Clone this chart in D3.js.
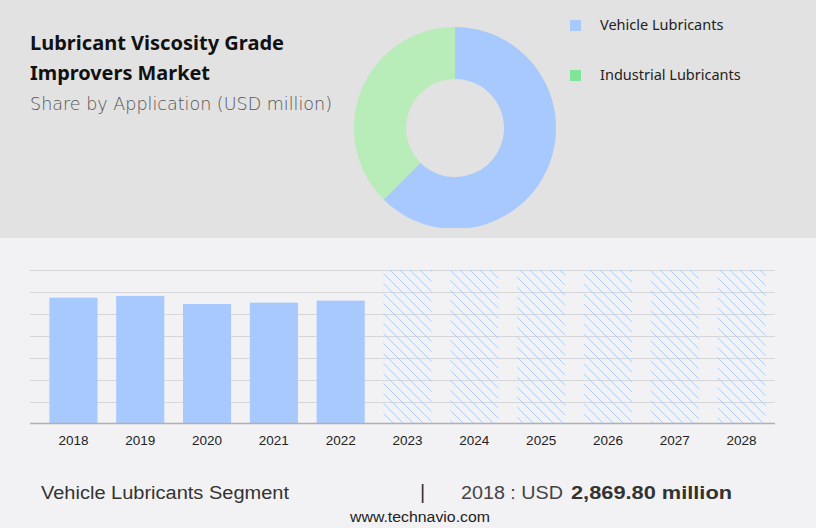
<!DOCTYPE html>
<html>
<head>
<meta charset="utf-8">
<script src="https://cdn.jsdelivr.net/npm/d3@7"></script>
<style>
    body { margin: 0; background: #f2f2f4; }
    svg { display: block; }
</style>
</head>
<body>
<div id="chart"></div>
<script>
var years = ['2018', '2019', '2020', '2021', '2022', '2023', '2024', '2025', '2026', '2027', '2028'];
var vehicleValues = [2869.8, 2908, 2726, 2756, 2801, null, null, null, null, null, null];
var forecastYears = ['2023', '2024', '2025', '2026', '2027', '2028'];
var gridTicks = [0, 500, 1000, 1500, 2000, 2500, 3000, 3500];

var shareLabels = ['Vehicle Lubricants', 'Industrial Lubricants'];
var shareValues = [62.5, 37.5];
var shareColors = ['#a8c9fd', '#b8ecb9'];
var legendColors = ['#a8c9fd', '#7ee599'];

var width = 816;
var height = 528;

var svg = d3.select('#chart').append('svg')
    .attr('width', width)
    .attr('height', height);

var defs = svg.append('defs');
var hatch = defs.append('pattern')
    .attr('id', 'hatch')
    .attr('patternUnits', 'userSpaceOnUse')
    .attr('width', 10)
    .attr('height', 10);
hatch.append('path')
    .attr('d', 'M-1,-1 L11,11 M-6,4 L1,11 M9,-1 L16,6')
    .attr('stroke', '#a8c9fd')
    .attr('stroke-width', 0.9)
    .attr('fill', 'none');

// top panel
svg.append('rect')
    .attr('x', 0).attr('y', 0)
    .attr('width', width).attr('height', 238)
    .attr('fill', '#e2e2e2');

svg.append('text')
    .attr('x', 30).attr('y', 50)
    .attr('font-family', 'Noto Sans, sans-serif')
    .attr('font-weight', 'bold')
    .attr('font-size', 20)
    .attr('fill', '#111')
    .attr('textLength', 254)
    .attr('lengthAdjust', 'spacingAndGlyphs')
    .text('Lubricant Viscosity Grade');
svg.append('text')
    .attr('x', 30).attr('y', 80)
    .attr('font-family', 'Noto Sans, sans-serif')
    .attr('font-weight', 'bold')
    .attr('font-size', 20)
    .attr('fill', '#111')
    .attr('textLength', 180)
    .attr('lengthAdjust', 'spacingAndGlyphs')
    .text('Improvers Market');
svg.append('text')
    .attr('x', 30).attr('y', 110)
    .attr('font-family', 'DejaVu Sans, sans-serif')
    .attr('font-weight', 300)
    .attr('font-size', 17)
    .attr('fill', '#555')
    .attr('textLength', 302)
    .attr('lengthAdjust', 'spacingAndGlyphs')
    .text('Share by Application (USD million)');

// donut
var pie = d3.pie().sort(null).value(function(d) { return d; });
var arc = d3.arc().innerRadius(49).outerRadius(101);
var donut = svg.append('g')
    .attr('transform', 'translate(455,128)');
donut.selectAll('path')
    .data(pie(shareValues))
    .enter().append('path')
    .attr('d', arc)
    .attr('fill', function(d, i) { return shareColors[i]; });

// clip the donut at the panel edge like the original
svg.append('rect')
    .attr('x', 340).attr('y', 228)
    .attr('width', 230).attr('height', 10)
    .attr('fill', '#e2e2e2');

var legend = svg.append('g');
legend.selectAll('rect')
    .data(shareLabels)
    .enter().append('rect')
    .attr('x', 570)
    .attr('y', function(d, i) { return 20 + i * 50; })
    .attr('width', 11).attr('height', 11)
    .attr('fill', function(d, i) { return legendColors[i]; });
legend.selectAll('text')
    .data(shareLabels)
    .enter().append('text')
    .attr('x', 600)
    .attr('y', function(d, i) { return 30 + i * 50; })
    .attr('font-family', 'Noto Sans, sans-serif')
    .attr('font-size', 14.5)
    .attr('fill', '#222')
    .text(function(d) { return d; });

// bar chart
var xScale = d3.scaleBand().domain(years).range([40, 775]).paddingInner(0.28).paddingOuter(0.14);
var yScale = d3.scaleLinear().domain([0, 3500]).range([423.5, 270]);

var grid = svg.append('g');
grid.selectAll('line')
    .data(gridTicks.slice(1))
    .enter().append('line')
    .attr('x1', 30).attr('x2', 775)
    .attr('y1', function(d) { return Math.round(yScale(d)) + 0.5; })
    .attr('y2', function(d) { return Math.round(yScale(d)) + 0.5; })
    .attr('stroke', '#d6d6d8')
    .attr('stroke-width', 1);

svg.append('g').selectAll('rect')
    .data(years.filter(function(d, i) { return vehicleValues[i] !== null; }))
    .enter().append('rect')
    .attr('x', function(d) { return xScale(d); })
    .attr('y', function(d) { return yScale(vehicleValues[years.indexOf(d)]); })
    .attr('width', xScale.bandwidth())
    .attr('height', function(d) { return yScale(0) - yScale(vehicleValues[years.indexOf(d)]); })
    .attr('fill', '#a8c9fd');

svg.append('g').selectAll('rect')
    .data(forecastYears)
    .enter().append('rect')
    .attr('x', function(d) { return xScale(d); })
    .attr('y', yScale(3500))
    .attr('width', xScale.bandwidth())
    .attr('height', yScale(0) - yScale(3500))
    .attr('fill', 'url(#hatch)');

var xAxis = svg.append('g')
    .attr('transform', 'translate(0,423.5)')
    .call(d3.axisBottom(xScale).tickSize(0).tickPadding(12));
xAxis.select('.domain').remove();
xAxis.append('line')
    .attr('x1', 30).attr('x2', 775)
    .attr('stroke', '#b0b0b2')
    .attr('stroke-width', 1.5);
xAxis.selectAll('text')
    .attr('font-family', 'Liberation Sans, Arial, sans-serif')
    .attr('font-size', 13.5)
    .attr('fill', '#222');

// footer
var footer = svg.append('g')
    .attr('font-family', 'Liberation Sans, Arial, sans-serif')
    .attr('fill', '#333');
footer.append('text')
    .attr('x', 41).attr('y', 499)
    .attr('font-size', 18)
    .attr('textLength', 248)
    .attr('lengthAdjust', 'spacingAndGlyphs')
    .text('Vehicle Lubricants Segment');
footer.append('text')
    .attr('x', 420).attr('y', 499)
    .attr('font-size', 20)
    .text('|');
footer.append('text')
    .attr('x', 461).attr('y', 499)
    .attr('font-size', 18)
    .attr('fill', '#444')
    .attr('textLength', 102)
    .attr('lengthAdjust', 'spacingAndGlyphs')
    .text('2018 : USD');
footer.append('text')
    .attr('x', 571).attr('y', 499)
    .attr('font-size', 19)
    .attr('font-weight', 'bold')
    .attr('textLength', 161)
    .attr('lengthAdjust', 'spacingAndGlyphs')
    .text('2,869.80 million');
footer.append('text')
    .attr('x', 350).attr('y', 522)
    .attr('font-size', 14)
    .attr('fill', '#222')
    .attr('textLength', 140)
    .attr('lengthAdjust', 'spacingAndGlyphs')
    .text('www.technavio.com');
</script>
</body>
</html>
